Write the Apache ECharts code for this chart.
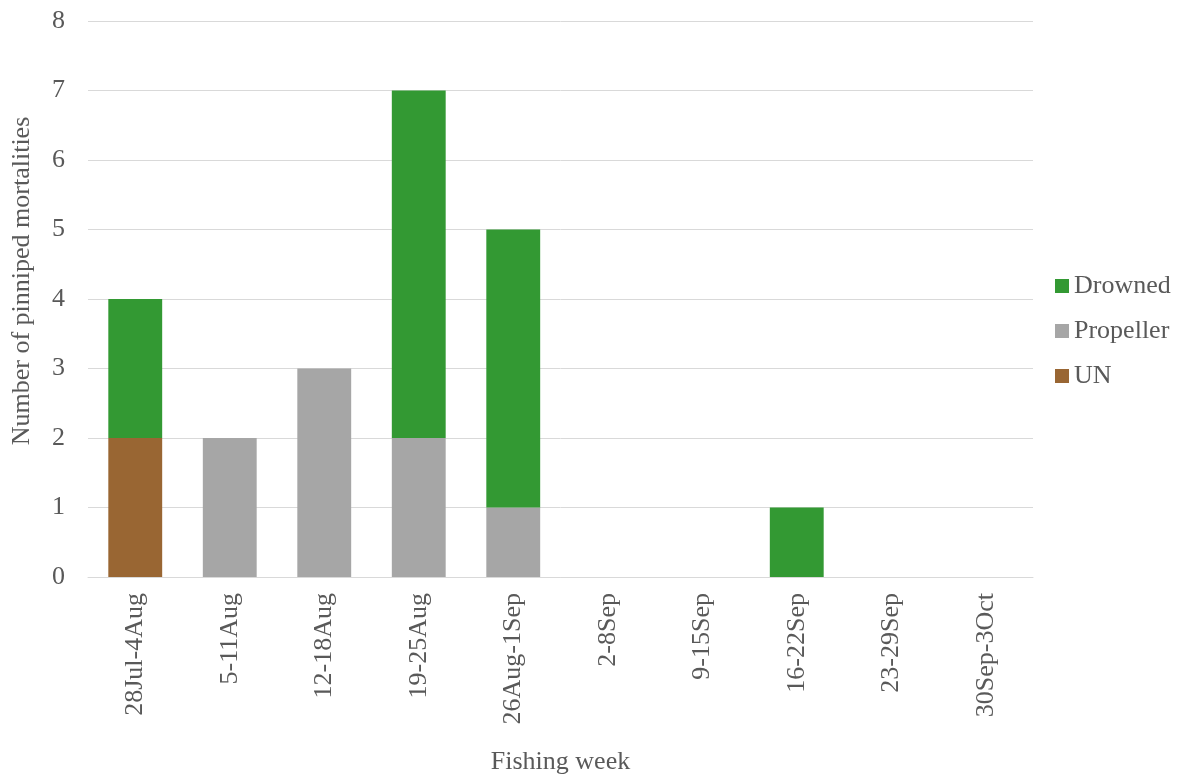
<!DOCTYPE html>
<html>
<head>
<meta charset="utf-8">
<script src="https://cdn.jsdelivr.net/npm/echarts@6/dist/echarts.min.js"></script>
<style>
  html, body { margin: 0; padding: 0; background: #fff; }
  #chart { width: 1178px; height: 776px; }
</style>
</head>
<body>
<div id="chart"></div>
<script>
// Weekly pinniped mortalities by cause
const weeks = ['28Jul-4Aug', '5-11Aug', '12-18Aug', '19-25Aug', '26Aug-1Sep',
               '2-8Sep', '9-15Sep', '16-22Sep', '23-29Sep', '30Sep-3Oct'];
const unknown   = [2, 0, 0, 0, 0, 0, 0, 0, 0, 0];
const propeller = [0, 2, 3, 2, 1, 0, 0, 0, 0, 0];
const drowned   = [2, 0, 0, 5, 4, 0, 0, 1, 0, 0];
const yTicks = { min: 0, max: 8, interval: 1 };

const font = '"Liberation Serif", "Times New Roman", serif';
const textColor = '#595959';
const fs = 26;

const chart = echarts.init(document.getElementById('chart'));
chart.setOption({
  animation: false,
  textStyle: { fontFamily: font },
  grid: { left: 88, right: 145, top: 21, bottom: 199, containLabel: false, outerBoundsMode: 'none' },
  legend: {
    orient: 'vertical',
    left: 1055,
    top: 273,
    padding: 0,
    itemWidth: 14,
    itemHeight: 14,
    itemGap: 19,
    icon: 'rect',
    data: ['Drowned', 'Propeller', 'UN'],
    textStyle: { fontFamily: font, fontSize: fs, color: textColor }
  },
  // vertical axis title, set slightly above the plot's middle
  graphic: [{
    type: 'text',
    x: 22,
    y: 281,
    rotation: Math.PI / 2,
    style: {
      text: 'Number of pinniped mortalities',
      fill: textColor,
      font: fs + 'px ' + font,
      align: 'center',
      verticalAlign: 'middle'
    }
  }],
  xAxis: {
    type: 'category',
    data: weeks,
    name: 'Fishing week',
    nameLocation: 'middle',
    nameGap: 172,
    nameTextStyle: { fontFamily: font, fontSize: fs, color: textColor },
    axisLine: { lineStyle: { color: '#d9d9d9', width: 1 } },
    axisTick: { show: false },
    axisLabel: { rotate: 90, margin: 16, fontFamily: font, fontSize: fs, color: textColor }
  },
  yAxis: {
    type: 'value',
    min: yTicks.min,
    max: yTicks.max,
    interval: yTicks.interval,
    axisLine: { show: false },
    axisTick: { show: false },
    axisLabel: { margin: 23, fontFamily: font, fontSize: fs, color: textColor },
    splitLine: { lineStyle: { color: '#d9d9d9', width: 1 } }
  },
  series: [
    { name: 'UN', type: 'bar', stack: 'total', barWidth: '57%', data: unknown,
      itemStyle: { color: '#996633' } },
    { name: 'Propeller', type: 'bar', stack: 'total', barWidth: '57%', data: propeller,
      itemStyle: { color: '#a6a6a6' } },
    { name: 'Drowned', type: 'bar', stack: 'total', barWidth: '57%', data: drowned,
      itemStyle: { color: '#339933' } }
  ]
});
</script>
</body>
</html>
